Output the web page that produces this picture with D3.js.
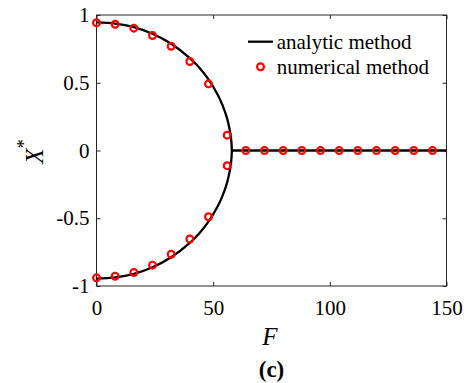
<!DOCTYPE html>
<html><head><meta charset="utf-8">
<script src="https://cdn.jsdelivr.net/npm/d3@7"></script>
<style>body{margin:0;background:#fff}svg{display:block}
text{font-family:"Liberation Serif","Times New Roman","DejaVu Serif",serif;}</style>
</head><body>
<script>
// Analytic curve: upper branch, lower branch is its mirror
const curveF = [0, 8, 16, 24, 32, 40, 44, 48, 52, 54, 56, 57, 57.6, 58];
const curveUpper = [0.946, 0.937, 0.911, 0.862, 0.788, 0.682, 0.612, 0.525, 0.41, 0.335, 0.235, 0.16, 0.1, 0];
const curveLower = [-0.946, -0.937, -0.911, -0.862, -0.788, -0.682, -0.612, -0.525, -0.41, -0.335, -0.235, -0.16, -0.1, 0];
const flatF = [58, 150];
const flatX = [0, 0];
// Numerical points
const numF = [0, 8, 16, 24, 32, 40, 48, 56];
const numUpper = [0.943, 0.932, 0.903, 0.849, 0.769, 0.657, 0.492, 0.113];
const numLower = [-0.940, -0.928, -0.900, -0.846, -0.766, -0.653, -0.489, -0.112];
const numZeroF = [64, 72, 80, 88, 96, 104, 112, 120, 128, 136, 144];
const numZeroX = [0, 0, 0, 0, 0, 0, 0, 0, 0, 0, 0];
const xTicks = [0, 50, 100, 150];
const yTicks = [-1, -0.5, 0, 0.5, 1];
const legendLabels = ["analytic method", "numerical method"];

const W = 470, H = 383;
const L = 96.5, R = 446.5, T = 15, B = 286;

const svg = d3.select("body").append("svg").attr("width", W).attr("height", H);
const x = d3.scaleLinear().domain([0, 150]).range([L, R]);
const y = d3.scaleLinear().domain([-1, 1]).range([B, T]);

const fmt = d => String(d);
const axisColor = "#262626";
function styleAxis(g) {
  g.attr("font-family", null).attr("font-size", null);
  g.select(".domain").remove();
  g.selectAll("line").attr("stroke", axisColor).attr("stroke-width", 1);
  g.selectAll("text").style("font-size", "21px").attr("fill", "#000");
}
svg.append("g").attr("transform", `translate(0,${B})`)
  .call(d3.axisBottom(x).tickValues(xTicks).tickFormat(fmt).tickSizeInner(-4).tickSizeOuter(0).tickPadding(14))
  .call(styleAxis);
svg.append("g").attr("transform", `translate(0,${T})`)
  .call(d3.axisTop(x).tickValues(xTicks).tickFormat("").tickSizeInner(-4).tickSizeOuter(0))
  .call(styleAxis);
svg.append("g").attr("transform", `translate(${L},0)`)
  .call(d3.axisLeft(y).tickValues(yTicks).tickFormat(fmt).tickSizeInner(-4).tickSizeOuter(0).tickPadding(7))
  .call(styleAxis);
svg.append("g").attr("transform", `translate(${R},0)`)
  .call(d3.axisRight(y).tickValues(yTicks).tickFormat("").tickSizeInner(-4).tickSizeOuter(0))
  .call(styleAxis);
svg.append("rect").attr("x", L).attr("y", T).attr("width", R - L).attr("height", B - T)
  .attr("fill", "none").attr("stroke", axisColor).attr("stroke-width", 1);

// analytic curve: upper branch, through (58,0), lower branch
const arcPts = curveF.map((f, i) => [f, curveUpper[i]])
  .concat(curveF.slice(0, -1).map((f, i) => [f, curveLower[i]]).reverse());
const line = d3.line().x(d => x(d[0])).y(d => y(d[1])).curve(d3.curveCatmullRom.alpha(0.5));
svg.append("path").attr("d", line(arcPts)).attr("fill", "none").attr("stroke", "#000").attr("stroke-width", 2.3);
svg.append("path").attr("d", d3.line().x(d => x(d[0])).y(d => y(d[1]))(flatF.map((f, i) => [f, flatX[i]])))
  .attr("fill", "none").attr("stroke", "#000").attr("stroke-width", 2.3);

// numerical points
const pts = numF.map((f, i) => [f, numUpper[i]])
  .concat(numF.map((f, i) => [f, numLower[i]]))
  .concat(numZeroF.map((f, i) => [f, numZeroX[i]]));
svg.append("g").selectAll("circle").data(pts).join("circle")
  .attr("cx", d => x(d[0])).attr("cy", d => y(d[1])).attr("r", 3.4)
  .attr("fill", "none").attr("stroke", "#ff0000").attr("stroke-width", 2.2);

// legend
const lg = svg.append("g");
lg.append("line").attr("x1", 248).attr("x2", 273).attr("y1", 41.7).attr("y2", 41.7)
  .attr("stroke", "#000").attr("stroke-width", 2.3);
lg.append("circle").attr("cx", 260.5).attr("cy", 66.7).attr("r", 3.4)
  .attr("fill", "none").attr("stroke", "#ff0000").attr("stroke-width", 2.2);
lg.selectAll("text").data(legendLabels).join("text")
  .attr("x", 276.7).attr("y", (d, i) => 49.3 + i * 24.5)
  .style("font-size", "21px").text(d => d);

// axis labels
svg.append("text").attr("x", 270).attr("y", 345).attr("text-anchor", "middle")
  .style("font-size", "25px").style("font-style", "italic").text("F");
const yl = svg.append("text").attr("transform", "translate(42.5,151.5) rotate(-90)")
  .attr("text-anchor", "middle").style("font-size", "25px");
yl.append("tspan").style("font-style", "italic").text("X");
yl.append("tspan").attr("dy", -13).style("font-size", "18px").text("*");
svg.append("text").attr("x", 271.5).attr("y", 377).attr("text-anchor", "middle")
  .style("font-size", "23px").style("font-weight", "bold").text("(c)");
</script>
</body></html>
